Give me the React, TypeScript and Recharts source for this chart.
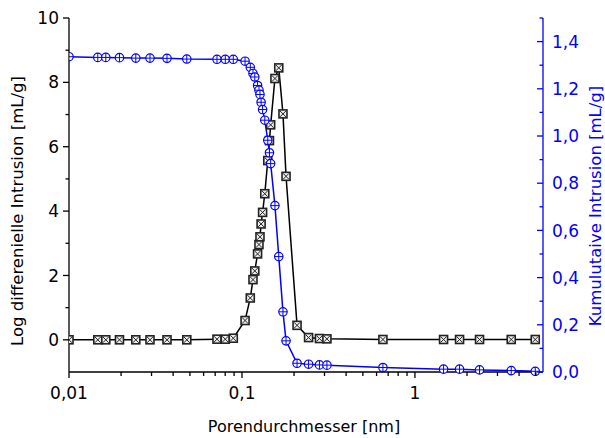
import { ComposedChart, Line, XAxis, YAxis } from 'recharts';

// pore diameter [nm], shared by both curves
const poreSizes = [
  0.01, 0.01467, 0.01632, 0.01958, 0.02433, 0.02939, 0.03686, 0.04797, 0.0717, 0.08009,
  0.08908, 0.1042, 0.1117, 0.1158, 0.1186, 0.1231, 0.1254, 0.1271, 0.129, 0.1316,
  0.1355, 0.141, 0.1442, 0.1465, 0.1551, 0.1632, 0.1726, 0.1798, 0.2082, 0.2427,
  0.2805, 0.3099, 0.653, 1.464, 1.811, 2.363, 3.603, 4.961,
];

// log differential intrusion [mL/g]
const diffIntrusion = [
  0, 0, 0, 0, 0, 0, 0, 0, 0.02, 0.02,
  0.05, 0.6, 1.3, 1.87, 2.14, 2.67, 2.96, 3.2, 3.6, 3.96,
  4.54, 5.57, 6.19, 6.68, 8.12, 8.45, 7.02, 5.08, 0.45, 0.07,
  0.04, 0.03, 0.01, 0.01, 0.01, 0.01, 0.01, 0.01,
];

// cumulative intrusion [mL/g]
const cumIntrusion = [
  1.336, 1.333, 1.333, 1.332, 1.33, 1.33, 1.329, 1.326, 1.325, 1.325,
  1.325, 1.317, 1.291, 1.265, 1.25, 1.214, 1.194, 1.176, 1.143, 1.112,
  1.067, 0.982, 0.929, 0.883, 0.705, 0.489, 0.255, 0.132, 0.037, 0.033,
  0.03, 0.029, 0.019, 0.012, 0.012, 0.009, 0.006, 0.003,
];

const xTicks = [
  0.01, 0.02, 0.03, 0.04, 0.05, 0.06, 0.07, 0.08, 0.09,
  0.1, 0.2, 0.3, 0.4, 0.5, 0.6, 0.7, 0.8, 0.9,
  1, 2, 3, 4, 5,
];
const xMajorTicks = [0.01, 0.1, 1];
const xMajorLabels = ['0,01', '0,1', '1'];

const leftTicks = [0, 1, 2, 3, 4, 5, 6, 7, 8, 9, 10];
const rightTicks = [0, 0.1, 0.2, 0.3, 0.4, 0.5, 0.6, 0.7, 0.8, 0.9, 1, 1.1, 1.2, 1.3, 1.4, 1.5];

const BLUE = '#0000ff';
const FONT = '"DejaVu Sans", sans-serif';

const chartData = poreSizes.map((d, i) => ({
  d,
  diff: diffIntrusion[i],
  cum: cumIntrusion[i],
}));

function XTick({ x, y, payload }: any) {
  const idx = xMajorTicks.indexOf(payload.value);
  const major = idx >= 0;
  return (
    <g>
      <line x1={x} y1={y} x2={x} y2={y + (major ? 6 : 4)} stroke="#000" strokeWidth={1.3} />
      {major && (
        <text x={x} y={y + 21} dy="0.36em" textAnchor="middle" fontSize={17} fill="#000" fontFamily={FONT}>
          {xMajorLabels[idx]}
        </text>
      )}
    </g>
  );
}

function LeftTick({ x, y, payload }: any) {
  const major = payload.value % 2 === 0;
  return (
    <g>
      <line x1={x} y1={y} x2={x - (major ? 6 : 3.5)} y2={y} stroke="#000" strokeWidth={1.3} />
      {major && (
        <text x={x - 10} y={y} dy="0.36em" textAnchor="end" fontSize={17} fill="#000" fontFamily={FONT}>
          {payload.value}
        </text>
      )}
    </g>
  );
}

function RightTick({ x, y, payload }: any) {
  const major = Math.round(payload.value * 10) % 2 === 0;
  return (
    <g>
      <line x1={x} y1={y} x2={x - (major ? 6 : 3.5)} y2={y} stroke={BLUE} strokeWidth={1.3} />
      {major && payload.value < 1.45 && (
        <text x={x + 9} y={y} dy="0.36em" textAnchor="start" fontSize={17} fill={BLUE} fontFamily={FONT}>
          {payload.value.toFixed(1).replace('.', ',')}
        </text>
      )}
    </g>
  );
}

function SquareDot({ cx, cy }: any) {
  if (cx == null || cy == null) return <g />;
  const h = 4;
  return (
    <g>
      <rect x={cx - h} y={cy - h} width={h * 2} height={h * 2} fill="#eee" stroke="#222" strokeWidth={1.6} />
      <line x1={cx - h + 1} y1={cy - h + 1} x2={cx + h - 1} y2={cy + h - 1} stroke="#222" strokeWidth={1} />
      <line x1={cx - h + 1} y1={cy + h - 1} x2={cx + h - 1} y2={cy - h + 1} stroke="#222" strokeWidth={1} />
    </g>
  );
}

function CircleDot({ cx, cy }: any) {
  if (cx == null || cy == null) return <g />;
  const r = 4.2;
  return (
    <g>
      <circle cx={cx} cy={cy} r={r} fill="#fff" stroke={BLUE} strokeWidth={1.2} />
      <line x1={cx - r} y1={cy} x2={cx + r} y2={cy} stroke={BLUE} strokeWidth={1} />
      <line x1={cx} y1={cy - r} x2={cx} y2={cy + r} stroke={BLUE} strokeWidth={1} />
    </g>
  );
}

export default function App() {
  return (
    <div style={{ position: 'relative', width: 605, height: 438, fontFamily: FONT, background: '#fff' }}>
      <style>{'body { margin: 0; }'}</style>
      <ComposedChart
        width={605}
        height={438}
        data={chartData}
        margin={{ top: 18, right: 12, bottom: 36, left: 0 }}
      >
        <XAxis
          dataKey="d"
          type="number"
          scale="log"
          domain={[0.01, 5.5]}
          allowDataOverflow
          ticks={xTicks}
          interval={0}
          height={30}
          tickSize={0}
          tickMargin={0}
          tickLine={false}
          axisLine={{ stroke: '#000', strokeWidth: 1.3 }}
          tick={<XTick />}
        />
        <YAxis
          yAxisId="left"
          domain={[-1, 10]}
          ticks={leftTicks}
          interval={0}
          width={69}
          tickSize={0}
          tickMargin={0}
          tickLine={false}
          axisLine={{ stroke: '#000', strokeWidth: 1.3 }}
          tick={<LeftTick />}
        />
        <YAxis
          yAxisId="right"
          orientation="right"
          domain={[0, 1.5]}
          ticks={rightTicks}
          interval={0}
          width={50}
          tickSize={0}
          tickMargin={0}
          tickLine={false}
          axisLine={{ stroke: BLUE, strokeWidth: 1.3 }}
          tick={<RightTick />}
        />
        <Line
          yAxisId="left"
          dataKey="diff"
          type="linear"
          stroke="#000"
          strokeWidth={1.5}
          dot={(p: any) => <SquareDot key={`s${p.index}`} cx={p.cx} cy={p.cy} />}
          activeDot={false}
          isAnimationActive={false}
        />
        <Line
          yAxisId="right"
          dataKey="cum"
          type="linear"
          stroke={BLUE}
          strokeWidth={1.5}
          dot={(p: any) => <CircleDot key={`c${p.index}`} cx={p.cx} cy={p.cy} />}
          activeDot={false}
          isAnimationActive={false}
        />
      </ComposedChart>

      <div
        style={{
          position: 'absolute',
          left: 304,
          top: 427,
          transform: 'translate(-50%, -50%)',
          fontSize: 16,
          lineHeight: 1,
          whiteSpace: 'nowrap',
          color: '#000',
        }}
      >
        Porendurchmesser [nm]
      </div>
      <div
        style={{
          position: 'absolute',
          left: 18,
          top: 211,
          transform: 'translate(-50%, -50%) rotate(-90deg)',
          fontSize: 16.5,
          lineHeight: 1,
          whiteSpace: 'nowrap',
          color: '#000',
        }}
      >
        Log differenielle Intrusion [mL/g]
      </div>
      <div
        style={{
          position: 'absolute',
          left: 596,
          top: 206,
          transform: 'translate(-50%, -50%) rotate(-90deg)',
          fontSize: 16.5,
          lineHeight: 1,
          whiteSpace: 'nowrap',
          color: BLUE,
        }}
      >
        Kumulutaive Intrusion [mL/g]
      </div>
    </div>
  );
}
